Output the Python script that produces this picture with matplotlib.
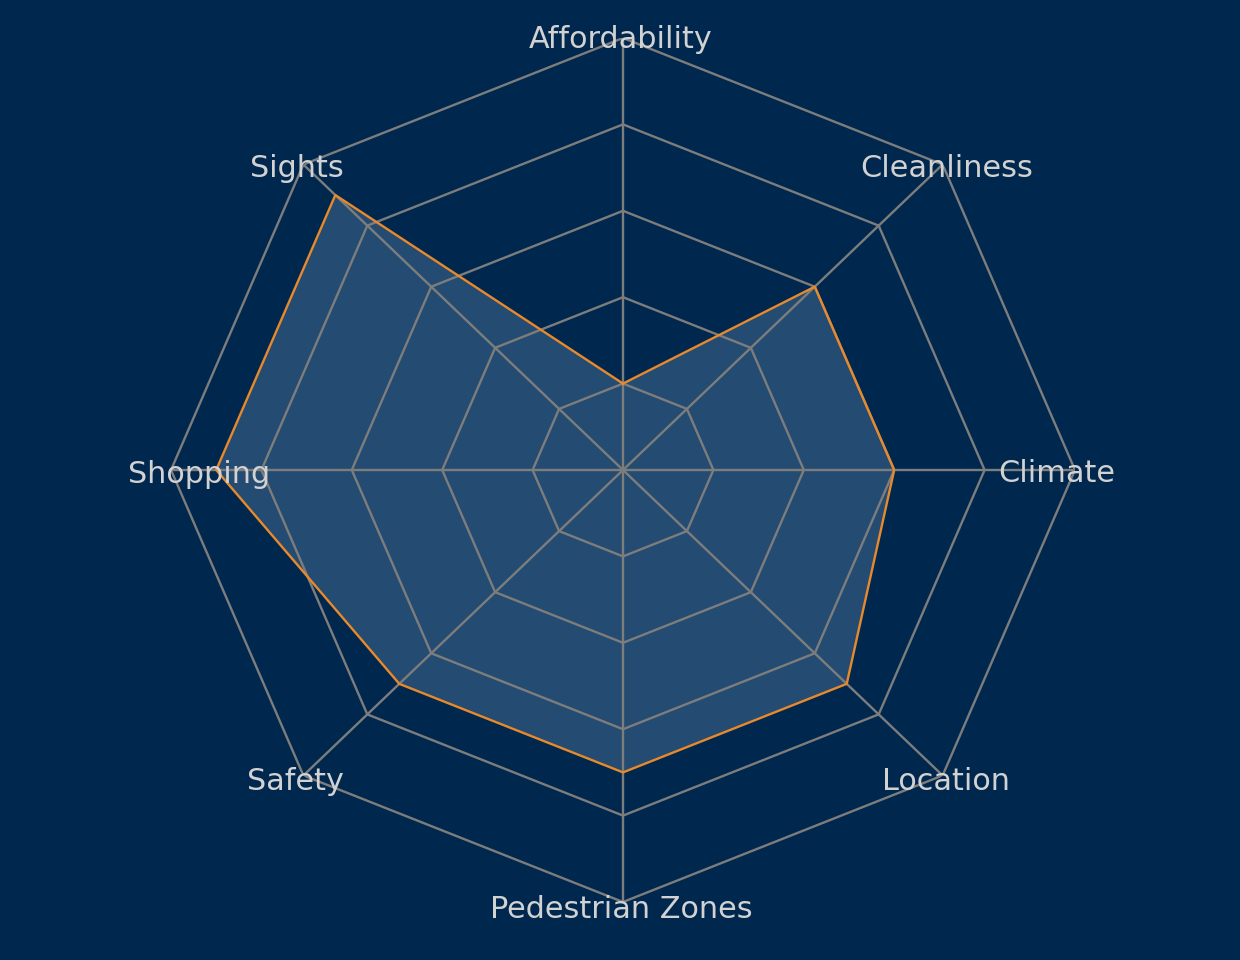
import numpy as np
import matplotlib
matplotlib.use("Agg")
import matplotlib.pyplot as plt

categories = ["Affordability", "Cleanliness", "Climate", "Location",
              "Pedestrian Zones", "Safety", "Shopping", "Sights"]
values = [1.0, 3.0, 3.0, 3.5, 3.5, 3.5, 4.5, 4.5]
rings = [1, 2, 3, 4, 5]

BG = "#00284f"
FILL = "#6a8fb3"
LINE = "#e8892b"
GRID = "#7d7d7d"
TEXT = "#d2d2d2"

n = len(categories)
theta = np.linspace(0, 2 * np.pi, n, endpoint=False)
theta_c = np.append(theta, theta[0])
vals_c = np.append(values, values[0])

fig = plt.figure(figsize=(12.4, 9.6), dpi=100, facecolor=BG)
ax = fig.add_axes([(623 - 452) / 1240, (960 - 902) / 960, 904 / 1240, 864 / 960],
                  projection="polar")
ax.set_aspect("auto")
ax.set_facecolor(BG)
ax.set_theta_zero_location("N")
ax.set_theta_direction(-1)
ax.set_ylim(0, 5)
ax.grid(False)
ax.set_xticks([])
ax.set_yticks([])
ax.spines["polar"].set_visible(False)

ax.fill(theta_c, vals_c, color=FILL, alpha=0.35, zorder=1, linewidth=0)

for r in rings:
    ax.plot(theta_c, [r] * (n + 1), color=GRID, lw=1.7, zorder=2)
for t in theta:
    ax.plot([t, t], [0, rings[-1]], color=GRID, lw=1.7, zorder=2)

ax.plot(theta_c, vals_c, color=LINE, lw=1.7, zorder=3)

# label offsets from the outer vertex, in pixels (x right, y up)
offsets = {"Affordability": (-2, -2), "Cleanliness": (4, -4), "Climate": (-18, -4),
           "Location": (3, -6), "Pedestrian Zones": (-2, -8), "Safety": (-8, -6),
           "Shopping": (28, -4), "Sights": (-7, -4)}
for t, c in zip(theta, categories):
    dx, dy = offsets.get(c, (0, 0))
    ax.annotate(c, xy=(t, rings[-1]), xytext=(dx * 0.72, dy * 0.72),
                textcoords="offset points", ha="center", va="center",
                color=TEXT, fontsize=21.8, family="DejaVu Sans", zorder=5,
                annotation_clip=False)

fig.savefig("out.png", dpi=100, facecolor=BG)
